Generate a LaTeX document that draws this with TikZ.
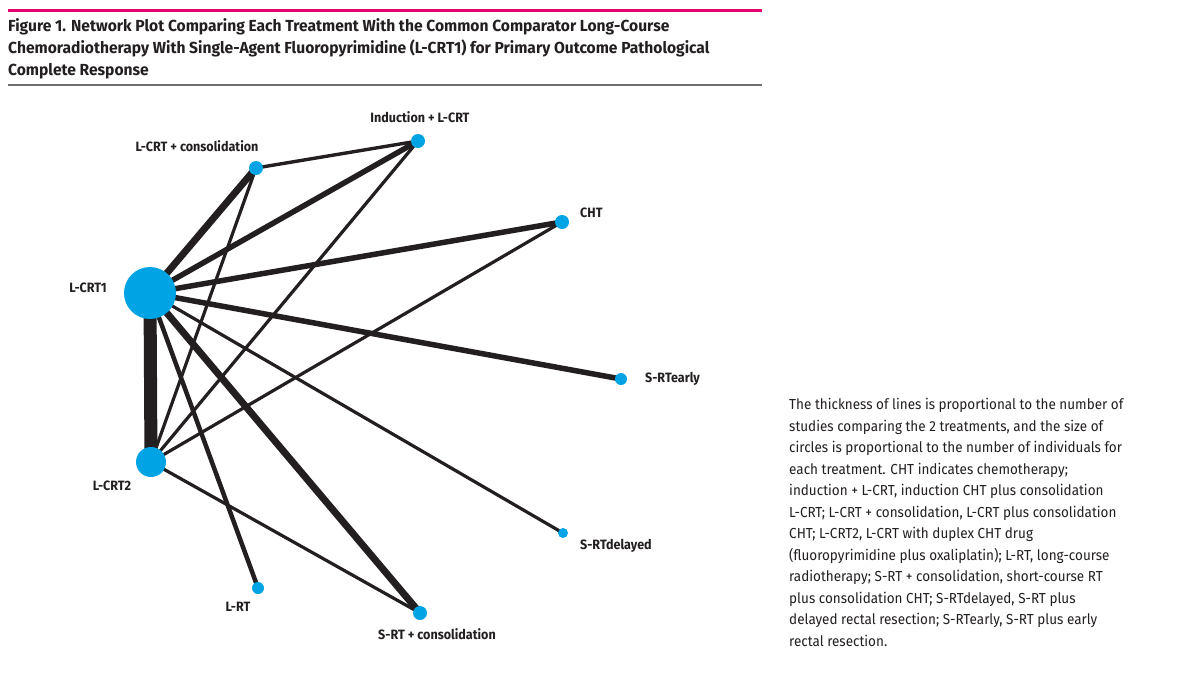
\documentclass[tikz,border=0pt]{standalone}
\usepackage{fontspec}
\setmainfont{Fira Sans}
\newfontfamily\headfont{Fira Sans}[FakeStretch=0.975]
\newfontfamily\labfont{Fira Sans}[FakeStretch=0.93]
\newfontfamily\capfont{Fira Sans}[FakeStretch=0.93]
\usetikzlibrary{backgrounds}
\definecolor{jpink}{RGB}{228,0,112}
\definecolor{jgray}{RGB}{110,110,110}
\definecolor{nodeblue}{RGB}{0,164,228}
\definecolor{edgeblack}{RGB}{35,31,32}
\definecolor{txt}{RGB}{35,31,32}
\tikzset{
  trt/.style={circle, fill=nodeblue, inner sep=0pt, minimum size=#1},
  lab/.style={font=\labfont\bfseries\fontsize{13.5}{15}\selectfont, text=txt, inner sep=0pt},
  edge/.style={draw=edgeblack, line width=#1},
  headtxt/.style={font=\headfont\bfseries\fontsize{16}{22}\selectfont, text=txt, align=left, inner sep=0pt, anchor=north west},
  captxt/.style={font=\capfont\fontsize{14.5}{21.5}\selectfont, text=txt, align=left, inner sep=0pt, anchor=north west}
}
\begin{document}
\begin{tikzpicture}[x=1pt,y=-1pt]
\useasboundingbox (0,0) rectangle (1200,675);
% header
\coordinate (pinkL) at (8,10);
\coordinate (pinkR) at (762,10);
\coordinate (grayL) at (8,85);
\coordinate (grayR) at (762,85);
\draw[jpink, line width=3pt] (pinkL) -- (pinkR);
\draw[jgray, line width=1.5pt] (grayL) -- (grayR);
\node[headtxt] (title) at (8,18) {Figure 1. Network Plot Comparing Each Treatment With the Common Comparator Long-Course\\
Chemoradiotherapy With Single-Agent Fluoropyrimidine (L-CRT1) for Primary Outcome Pathological\\
Complete Response};
% nodes
\node[trt=52pt] (lcrt1) at (150,293) {};
\node[trt=30pt] (lcrt2) at (151,462) {};
\node[trt=14pt] (lcrtc) at (256,168) {};
\node[trt=14pt] (ind) at (418,141) {};
\node[trt=14pt] (cht) at (562,222) {};
\node[trt=12pt] (srte) at (621,379) {};
\node[trt=10pt] (srtd) at (563,533) {};
\node[trt=12pt] (lrt) at (258,588) {};
\node[trt=14pt] (srtc) at (420,613) {};
% labels
\node[lab] (llcrtc) at (197,146) {L-CRT + consolidation};
\node[lab] (lind) at (420,117) {Induction + L-CRT};
\node[lab, anchor=west] (lcht) at (580,213) {CHT};
\node[lab] (llcrt1) at (88,288) {L-CRT1};
\node[lab, anchor=west] (lsrte) at (645,379) {S-RTearly};
\node[lab] (llcrt2) at (112,486) {L-CRT2};
\node[lab, anchor=west] (lsrtd) at (580,546) {S-RTdelayed};
\node[lab] (llrt) at (238,607) {L-RT};
\node[lab] (lsrtc) at (437,634) {S-RT + consolidation};
% edges
\begin{scope}[on background layer]
\fill[white] (0,0) rectangle (1200,675);
\draw[edge=13pt] (lcrt1.center) -- (lcrt2.center);
\draw[edge=7pt] (lcrt1.center) -- (lcrtc.center);
\draw[edge=5.5pt] (lcrt1.center) -- (ind.center);
\draw[edge=5.5pt] (lcrt1.center) -- (cht.center);
\draw[edge=5.5pt] (lcrt1.center) -- (srte.center);
\draw[edge=3.2pt] (lcrt1.center) -- (srtd.center);
\draw[edge=4.5pt] (lcrt1.center) -- (lrt.center);
\draw[edge=7pt] (lcrt1.center) -- (srtc.center);
\draw[edge=3.2pt] (lcrt2.center) -- (lcrtc.center);
\draw[edge=3.2pt] (lcrt2.center) -- (ind.center);
\draw[edge=3.2pt] (lcrt2.center) -- (cht.center);
\draw[edge=3.2pt] (lcrt2.center) -- (srtc.center);
\draw[edge=3.4pt] (lcrtc.center) -- (ind.center);
\end{scope}
% caption
\node[captxt] (caption) at (789,398) {The thickness of lines is proportional to the number of\\
studies comparing the 2 treatments, and the size of\\
circles is proportional to the number of individuals for\\
each treatment. CHT indicates chemotherapy;\\
induction + L-CRT, induction CHT plus consolidation\\
L-CRT; L-CRT + consolidation, L-CRT plus consolidation\\
CHT; L-CRT2, L-CRT with duplex CHT drug\\
(fluoropyrimidine plus oxaliplatin); L-RT, long-course\\
radiotherapy; S-RT + consolidation, short-course RT\\
plus consolidation CHT; S-RTdelayed, S-RT plus\\
delayed rectal resection; S-RTearly, S-RT plus early\\
rectal resection.};
\end{tikzpicture}
\end{document}
